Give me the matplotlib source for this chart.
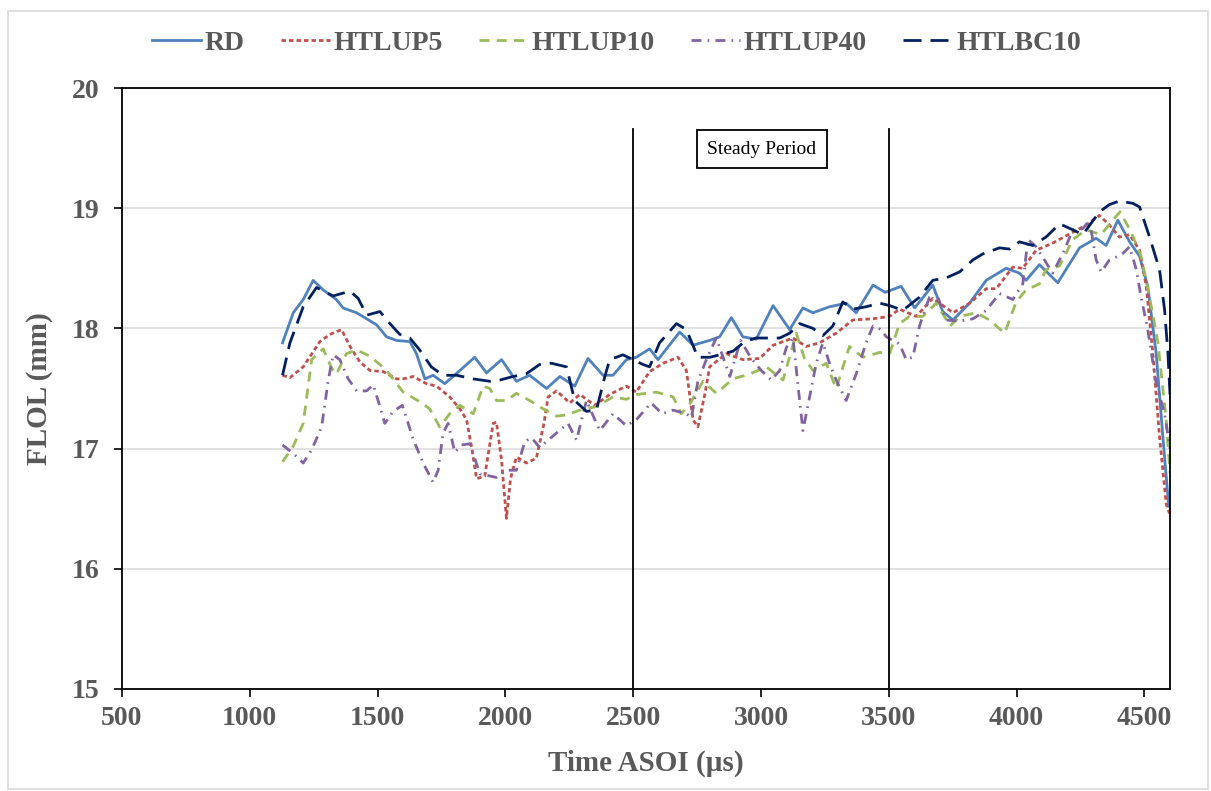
import matplotlib
matplotlib.use("Agg")
import matplotlib.pyplot as plt
from matplotlib.patches import Rectangle

# ---- data ----
rd_t = [1128, 1170, 1209, 1248, 1287, 1339, 1365, 1418, 1457, 1496, 1535, 1574, 1626, 1652,
        1685, 1717, 1763, 1822, 1880, 1926, 1985, 2043, 2095, 2161, 2213, 2271, 2323, 2382,
        2421, 2473, 2512, 2564, 2597, 2682, 2734, 2799, 2838, 2884, 2929, 2981, 3047, 3112,
        3164, 3203, 3268, 3333, 3372, 3438, 3486, 3548, 3601, 3672, 3711, 3751, 3816, 3881,
        3959, 4011, 4037, 4089, 4161, 4246, 4311, 4350, 4396, 4442, 4481, 4513, 4546, 4572, 4595]
rd_v = [17.88, 18.13, 18.24, 18.40, 18.32, 18.24, 18.17, 18.13, 18.08, 18.03, 17.93, 17.90, 17.89, 17.79,
        17.58, 17.61, 17.54, 17.65, 17.76, 17.63, 17.74, 17.56, 17.61, 17.50, 17.60, 17.52, 17.75, 17.61,
        17.61, 17.74, 17.76, 17.83, 17.74, 17.97, 17.86, 17.90, 17.93, 18.09, 17.93, 17.91, 18.19, 17.99,
        18.17, 18.13, 18.18, 18.21, 18.13, 18.36, 18.30, 18.35, 18.17, 18.36, 18.14, 18.07, 18.21, 18.40,
        18.50, 18.46, 18.40, 18.53, 18.38, 18.67, 18.75, 18.69, 18.90, 18.72, 18.60, 18.35, 17.79, 17.10, 16.52]

up5_t = [1128, 1157, 1209, 1274, 1313, 1359, 1392, 1431, 1470, 1522, 1574, 1600, 1639, 1691,
         1730, 1782, 1822, 1848, 1867, 1887, 1919, 1952, 1965, 1985, 2004, 2020, 2043, 2082,
         2121, 2150, 2167, 2200, 2252, 2291, 2350, 2408, 2473, 2512, 2564, 2617, 2675, 2708,
         2734, 2753, 2780, 2799, 2864, 2929, 2995, 3047, 3125, 3177, 3229, 3294, 3359, 3438,
         3503, 3542, 3607, 3672, 3751, 3816, 3881, 3920, 3985, 4024, 4076, 4141, 4220, 4272,
         4324, 4363, 4402, 4442, 4481, 4507, 4533, 4559, 4585, 4598]
up5_v = [17.61, 17.59, 17.68, 17.89, 17.95, 17.99, 17.85, 17.72, 17.65, 17.64, 17.58, 17.58, 17.60, 17.54,
         17.52, 17.43, 17.33, 17.24, 17.02, 16.75, 16.77, 17.21, 17.22, 16.90, 16.42, 16.75, 16.93, 16.88,
         16.92, 17.20, 17.43, 17.48, 17.38, 17.45, 17.36, 17.45, 17.52, 17.47, 17.64, 17.71, 17.76, 17.65,
         17.24, 17.18, 17.45, 17.68, 17.79, 17.74, 17.75, 17.86, 17.92, 17.85, 17.88, 17.96, 18.07, 18.08,
         18.10, 18.16, 18.10, 18.25, 18.13, 18.21, 18.33, 18.33, 18.51, 18.50, 18.65, 18.71, 18.80, 18.86,
         18.94, 18.86, 18.76, 18.78, 18.65, 18.35, 17.79, 17.10, 16.54, 16.46]

up10_t = [1128, 1170, 1209, 1242, 1287, 1320, 1339, 1378, 1418, 1470, 1535, 1600, 1665, 1704,
          1743, 1782, 1822, 1874, 1913, 1939, 1965, 2004, 2043, 2095, 2148, 2200, 2239, 2291,
          2356, 2421, 2473, 2512, 2590, 2656, 2688, 2721, 2773, 2825, 2890, 2955, 3021, 3086,
          3138, 3170, 3203, 3255, 3294, 3346, 3398, 3464, 3503, 3542, 3581, 3633, 3685, 3740,
          3777, 3842, 3894, 3953, 3998, 4037, 4089, 4115, 4168, 4220, 4272, 4330, 4376, 4405,
          4448, 4487, 4520, 4553, 4585, 4600]
up10_v = [16.89, 17.02, 17.21, 17.74, 17.83, 17.67, 17.62, 17.79, 17.82, 17.77, 17.65, 17.47, 17.39, 17.33,
          17.18, 17.29, 17.36, 17.29, 17.52, 17.50, 17.40, 17.40, 17.46, 17.40, 17.33, 17.27, 17.28, 17.32,
          17.35, 17.43, 17.41, 17.45, 17.47, 17.43, 17.29, 17.37, 17.56, 17.46, 17.58, 17.62, 17.68, 17.57,
          17.96, 17.75, 17.65, 17.71, 17.50, 17.85, 17.76, 17.80, 17.79, 18.04, 18.10, 18.10, 18.21, 18.02,
          18.10, 18.13, 18.07, 17.96, 18.22, 18.32, 18.37, 18.49, 18.52, 18.74, 18.82, 18.78, 18.90, 18.97,
          18.80, 18.60, 18.26, 17.88, 17.24, 16.80]

up40_t = [1128, 1170, 1209, 1242, 1281, 1307, 1326, 1352, 1385, 1418, 1457, 1483, 1509, 1528,
          1561, 1597, 1639, 1678, 1717, 1737, 1756, 1776, 1802, 1828, 1861, 1900, 1965, 2004,
          2043, 2076, 2102, 2134, 2200, 2245, 2278, 2317, 2350, 2369, 2421, 2473, 2512, 2570,
          2613, 2656, 2708, 2728, 2753, 2786, 2825, 2878, 2920, 2962, 3001, 3040, 3073, 3099,
          3125, 3151, 3164, 3190, 3216, 3242, 3268, 3294, 3333, 3372, 3411, 3438, 3470, 3490,
          3542, 3568, 3594, 3620, 3659, 3685, 3724, 3777, 3829, 3881, 3933, 3985, 4024, 4044,
          4076, 4141, 4180, 4220, 4259, 4285, 4311, 4331, 4363, 4409, 4442, 4468, 4487, 4513,
          4546, 4579, 4600]
up40_v = [17.03, 16.96, 16.88, 16.99, 17.18, 17.57, 17.78, 17.74, 17.58, 17.48, 17.48, 17.53, 17.35, 17.21,
          17.31, 17.36, 17.08, 16.88, 16.72, 16.82, 17.13, 17.21, 16.97, 17.03, 17.04, 16.79, 16.76, 16.82,
          16.82, 17.06, 17.09, 17.01, 17.13, 17.21, 17.07, 17.40, 17.24, 17.15, 17.29, 17.19, 17.24, 17.38,
          17.29, 17.32, 17.29, 17.26, 17.56, 17.74, 17.92, 17.60, 17.90, 17.75, 17.65, 17.57, 17.65, 17.84,
          17.92, 17.40, 17.15, 17.43, 17.71, 17.88, 17.71, 17.57, 17.40, 17.62, 17.88, 18.02, 17.99, 17.93,
          17.87, 17.74, 17.76, 18.02, 18.26, 18.30, 18.07, 18.06, 18.08, 18.15, 18.29, 18.24, 18.37, 18.74,
          18.68, 18.46, 18.62, 18.82, 18.83, 18.90, 18.57, 18.47, 18.57, 18.61, 18.68, 18.49, 18.26, 17.99,
          17.54, 17.29, 17.00]

bc10_t = [1128, 1157, 1209, 1261, 1326, 1392, 1424, 1457, 1509, 1548, 1587, 1626, 1665, 1710,
          1756, 1809, 1874, 1939, 1978, 2030, 2080, 2134, 2180, 2239, 2271, 2317, 2356, 2389,
          2408, 2460, 2500, 2538, 2564, 2603, 2669, 2708, 2753, 2800, 2838, 2890, 2936, 2981,
          3073, 3112, 3151, 3203, 3242, 3281, 3320, 3359, 3411, 3464, 3503, 3555, 3620, 3672,
          3724, 3777, 3829, 3868, 3933, 3972, 4011, 4063, 4115, 4168, 4220, 4259, 4324, 4363,
          4402, 4455, 4481, 4520, 4559, 4579, 4592, 4600]
bc10_v = [17.61, 17.88, 18.18, 18.34, 18.27, 18.31, 18.25, 18.11, 18.14, 18.04, 17.95, 17.92, 17.82, 17.68,
          17.61, 17.61, 17.58, 17.56, 17.57, 17.60, 17.62, 17.70, 17.71, 17.68, 17.40, 17.31, 17.32, 17.60,
          17.74, 17.78, 17.74, 17.70, 17.68, 17.88, 18.04, 17.99, 17.76, 17.76, 17.78, 17.81, 17.89, 17.92,
          17.92, 17.96, 18.04, 18.00, 17.94, 18.02, 18.22, 18.16, 18.18, 18.21, 18.19, 18.15, 18.26, 18.40,
          18.42, 18.47, 18.57, 18.62, 18.67, 18.66, 18.72, 18.69, 18.76, 18.87, 18.82, 18.78, 18.97, 19.03,
          19.06, 19.04, 19.01, 18.76, 18.49, 18.15, 17.79, 17.45]

steady_bounds = [2500, 3500]
x_ticks = [500, 1000, 1500, 2000, 2500, 3000, 3500, 4000, 4500]
y_ticks = [15, 16, 17, 18, 19, 20]

# ---- figure ----
plt.rcParams["font.family"] = ["Liberation Serif", "DejaVu Serif"]
gray = "#595959"

fig = plt.figure(figsize=(12.11, 7.91), dpi=100)
fig.patches.append(Rectangle((8 / 1211, 2 / 791), 1200 / 1211, 778 / 791,
                             transform=fig.transFigure, fill=False,
                             edgecolor="#d9d9d9", lw=1.2))
ax = fig.add_axes([122 / 1211, 1 - 689 / 791, 1048 / 1211, 601 / 791])

lw = 2.0
ax.plot(rd_t, rd_v, color="#4F81BD", lw=lw, label="RD")
ax.plot(up5_t, up5_v, color="#C0504D", lw=lw, dashes=(1.6, 1.1), label="HTLUP5")
ax.plot(up10_t, up10_v, color="#9BBB59", lw=lw, dashes=(3.6, 2.6), label="HTLUP10")
ax.plot(up40_t, up40_v, color="#8064A2", lw=lw, dashes=(3.6, 2.2, 0.6, 2.2), label="HTLUP40")
ax.plot(bc10_t, bc10_v, color="#002060", lw=lw, dashes=(6.5, 3.2), label="HTLBC10")

# steady period markers
for xb in steady_bounds:
    ax.plot([xb, xb], [15, 19.66], color="black", lw=1.3, zorder=5)

ax.text(3003, 19.49, "Steady Period", fontsize=14, ha="center", va="center", color="black",
        bbox=dict(boxstyle="square,pad=0.55", facecolor="white", edgecolor="black", lw=1.3))

ax.set_xlim(500, 4600)
ax.set_ylim(15, 20)
ax.set_xticks(x_ticks)
ax.set_yticks(y_ticks)
ax.grid(axis="y", color="#d9d9d9", lw=1.1)
ax.set_axisbelow(True)
for s in ax.spines.values():
    s.set_color("black")
    s.set_linewidth(1.3)
ax.tick_params(direction="out", length=6, width=1.2, color="black",
               labelsize=20, labelcolor=gray)
ax.tick_params(axis="y", pad=10)
ax.tick_params(axis="x", pad=6)
for lab in ax.get_xticklabels() + ax.get_yticklabels():
    lab.set_fontweight("bold")

ax.set_xlabel("Time ASOI (µs)", fontsize=21, fontweight="bold", color=gray, labelpad=14)
ax.set_ylabel("FLOL (mm)", fontsize=21, fontweight="bold", color=gray, labelpad=14)

leg = fig.legend(loc="center", bbox_to_anchor=(0.509, 1 - 43 / 791), ncol=5, frameon=False,
                 handlelength=1.75, columnspacing=1.3, handletextpad=0.15,
                 prop={"weight": "bold", "size": 20})
for t in leg.get_texts():
    t.set_color(gray)

fig.savefig("out.png", dpi=100)
